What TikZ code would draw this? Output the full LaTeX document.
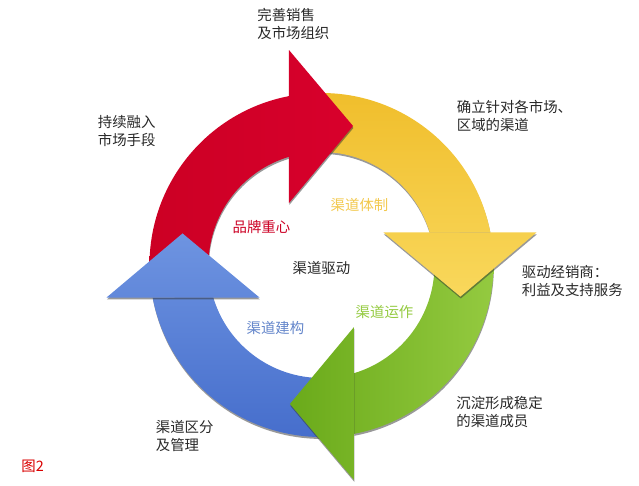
\documentclass[tikz,border=0pt]{standalone}
\usepackage{fontspec}
\setmainfont{Noto Sans CJK SC}
\usepackage{xcolor}
\usetikzlibrary{shadows}

\definecolor{ringRed}{RGB}{216,0,44}
\definecolor{ringRedD}{RGB}{204,0,36}
\definecolor{ringYelD}{RGB}{240,190,44}
\definecolor{ringYelL}{RGB}{249,216,92}
\definecolor{ringGrnD}{RGB}{106,170,26}
\definecolor{ringGrnL}{RGB}{148,202,64}
\definecolor{ringBluD}{RGB}{70,110,204}
\definecolor{ringBluL}{RGB}{110,148,225}
\definecolor{noteGray}{RGB}{40,40,40}

\begin{document}
\begin{tikzpicture}[
    x=0.02cm, y=0.02cm,
    % one pixel of the sketch = 0.02cm, origin at the ring centre
    part/.style={drop shadow={shadow xshift=0.2pt, shadow yshift=-1.1pt, opacity=0.5, fill=black!80}},
    redfill/.style={left color=ringRedD, right color=ringRed},
    yelfill/.style={top color=ringYelD, bottom color=ringYelL},
    grnfill/.style={left color=ringGrnD, right color=ringGrnL},
    blufill/.style={top color=ringBluL, bottom color=ringBluD},
    % one shading box per arrow, so shaft and head blend into each other
    tinted/.style 2 args={part, path picture={\shade[#1, rotate=-#2] (-172,0) rectangle (32,217);}},
    note/.style={anchor=north west, align=left, inner sep=0pt, text=noteGray,
                 font=\fontsize{8.2}{10.4}\selectfont},
    hub/.style={inner sep=0pt, font=\fontsize{8.2}{10.4}\selectfont}
]

\useasboundingbox (-321.5,-221) rectangle (317.5,265);

% shafts first, then the heads so that each head lies over the next shaft
\foreach \rot/\sty in {0/redfill, 90/yelfill, 180/grnfill, 270/blufill} {
    \path[tinted={\sty}{\rot}] (180-\rot:172) arc[start angle=180-\rot, end angle=100.9-\rot, radius=172]
        -- (106.7-\rot:113) arc[start angle=106.7-\rot, end angle=180-\rot, radius=113] -- cycle;
}
\foreach \rot/\sty in {0/redfill, 90/yelfill, 180/grnfill, 270/blufill} {
    \path[tinted={\sty}{\rot}] (98.6-\rot:217.4) -- (77.2-\rot:142.5) -- (117.7-\rot:70) -- cycle;
}

% labels round the ring
\node[note] (sales)   at (-64.5,257)  {完善销售\\及市场组织};
\node[note] (market)  at (-224,150)   {持续融入\\市场手段};
\node[note] (region)  at (135,165)    {确立针对各市场、\\区域的渠道};
\node[note] (dealer)  at (200,0)      {驱动经销商：\\利益及支持服务};
\node[note] (member)  at (134.5,-131) {沉淀形成稳定\\的渠道成员};
\node[note] (manage)  at (-166,-155)  {渠道区分\\及管理};
\node[note, text=red!85!black] (fig) at (-300.5,-195) {图2};

% labels inside the ring
\node[hub, text=ringRedD]           (brand)  at (-60,38)  {品牌重心};
\node[hub, text=ringYelD!85!white]  (system) at (38,60)   {渠道体制};
\node[hub, text=noteGray]           (drive)  at (0,-3)    {渠道驱动};
\node[hub, text=ringGrnL]           (run)    at (63,-47)  {渠道运作};
\node[hub, text=ringBluL!90!black]  (build)  at (-46,-63) {渠道建构};

\end{tikzpicture}
\end{document}
